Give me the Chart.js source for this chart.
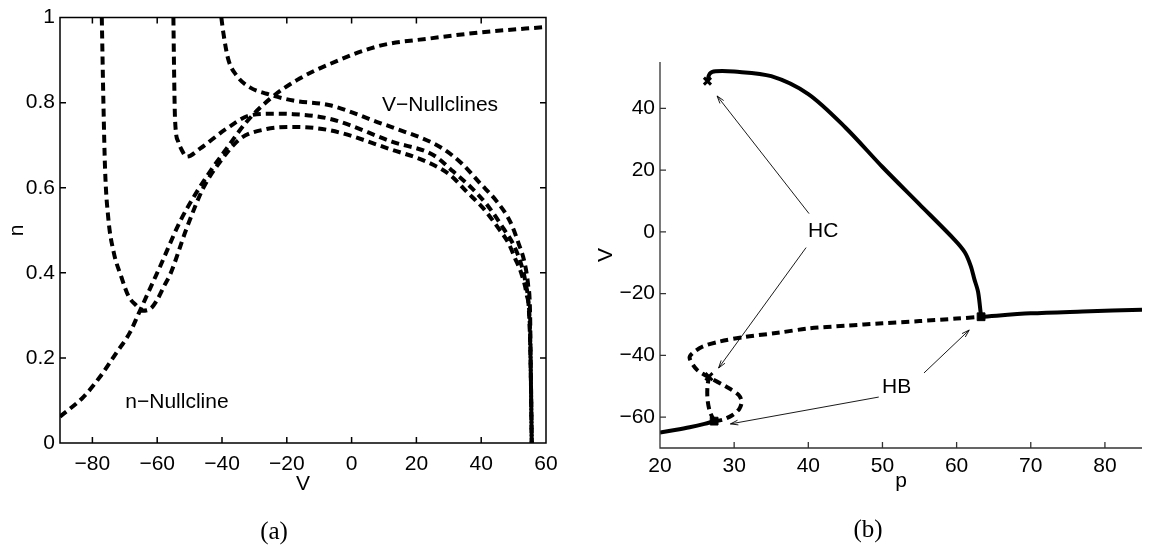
<!DOCTYPE html>
<html>
<head>
<meta charset="utf-8">
<script src="https://cdn.jsdelivr.net/npm/chart.js@4.4.0/dist/chart.umd.min.js"></script>
<style>
  body { margin: 0; background: #fff; }
  #wrap { position: relative; width: 1150px; height: 546px; overflow: hidden; }
  #wrap canvas { position: absolute; top: 0; }
  .cap { position: absolute; font-family: 'Liberation Serif', serif; font-size: 25px; color: #000; transform: translate(-50%, -50%); }
</style>
</head>
<body>
<div id="wrap">
  <canvas id="chart-nullclines" width="575" height="546" style="left:0"></canvas>
  <canvas id="chart-bifurcation" width="575" height="546" style="left:575px"></canvas>
  <div class="cap" style="left:274px; top:531px">(a)</div>
  <div class="cap" style="left:868px; top:529px">(b)</div>
</div>
<script>
// (a) nullclines in the V-n plane
const nNullV = [-90, -82.8, -77.7, -72.5, -68.4, -65.8, -61.2, -59.1, -53, -47.8, -43.7, -38.6, -32.4, -25.2, -16.9, -6.7, 8.8, 24.2, 39.6, 60];
const nNullN = [0.062, 0.108, 0.155, 0.213, 0.26, 0.303, 0.38, 0.415, 0.52, 0.59, 0.638, 0.692, 0.755, 0.809, 0.853, 0.891, 0.934, 0.951, 0.965, 0.978];

const vNullAV = [-77.1, -76.6, -76.1, -75.1, -73.5, -71, -68.9, -66.3, -64.8, -62.2, -60.2, -57.6, -56, -50.9, -45.8, -40.6, -34.4, -26.2, -18, -6.7, 12.6, 23.2, 30.4, 35.5, 40.6, 45.3, 48.4, 50.4, 52.5, 54, 55, 55.3, 55.6];
const vNullAN = [1.0, 0.8, 0.646, 0.529, 0.451, 0.389, 0.346, 0.322, 0.311, 0.315, 0.334, 0.373, 0.396, 0.505, 0.599, 0.661, 0.715, 0.738, 0.743, 0.735, 0.689, 0.661, 0.63, 0.591, 0.552, 0.505, 0.47, 0.435, 0.396, 0.35, 0.28, 0.171, 0.0];

const vNullBV = [-55, -54.8, -54.5, -53.5, -52.5, -50.9, -46.8, -38.6, -31.4, -24.2, -18, -6.7, 12.6, 25.2, 31.4, 37.1, 42.2, 46.8, 49.9, 52, 53.6, 54.8, 55.3, 55.6];
const vNullBN = [1.0, 0.88, 0.762, 0.708, 0.69, 0.673, 0.692, 0.739, 0.77, 0.774, 0.773, 0.762, 0.708, 0.677, 0.638, 0.599, 0.556, 0.505, 0.467, 0.428, 0.38, 0.3, 0.171, 0.0];

const vNullCV = [-40.2, -39.6, -38.1, -35.5, -31.4, -26.2, -18, -6.7, 8.8, 12.6, 27.3, 34, 39.6, 44.8, 48.9, 51.5, 53.5, 54.5, 55.1, 55.3, 55.6];
const vNullCN = [1.0, 0.965, 0.903, 0.864, 0.836, 0.821, 0.805, 0.794, 0.752, 0.742, 0.696, 0.657, 0.611, 0.568, 0.521, 0.47, 0.42, 0.37, 0.3, 0.171, 0.0];

const leftVTicks = [-80, -60, -40, -20, 0, 20, 40, 60];
const leftNTicks = [0, 0.2, 0.4, 0.6, 0.8, 1];
const leftNotes = [
  {text: 'V\u2212Nullclines', x: 27.3, y: 0.794},
  {text: 'n\u2212Nullcline', x: -53.9, y: 0.096}
];

// (b) bifurcation diagram, V against p
const lowStableP = [20, 22, 24, 26, 27.3];
const lowStableV = [-65, -64.2, -63.3, -62.2, -61.3];
const unstableEqP = [27.3, 28.5, 29.8, 30.7, 31, 30.6, 28.9, 26.6, 25, 24, 24.3, 25.7, 27.9, 31.5, 35.9, 40, 45, 50, 55, 60, 63.3];
const unstableEqV = [-61.3, -60.8, -59.3, -57.3, -55, -52.8, -50.1, -47.1, -44.7, -41, -39.5, -37.2, -35.6, -34, -32.7, -31.3, -30.4, -29.6, -28.9, -28.1, -27.5];
const unstableCycP = [27.3, 26.7, 26.4, 26.4, 26.6];
const unstableCycV = [-61.3, -58, -54, -50, -47.1];
const stableCycP = [26.4, 26.7, 27.5, 30, 35, 40, 45, 50, 55, 59.7, 61.1, 61.9, 62.4, 62.9, 63.3];
const stableCycV = [48.8, 51.2, 52, 51.9, 50.4, 44.6, 33.8, 21, 8.9, -2.5, -6.6, -11, -15.4, -19.5, -27.5];
const highStableP = [63.3, 70, 77, 85];
const highStableV = [-27.5, -26.4, -25.8, -25.2];

const hbP = [27.3, 63.3];
const hbV = [-61.3, -27.5];
const hcP = [26.4, 26.6];
const hcV = [48.8, -46.9];

const rightPTicks = [20, 30, 40, 50, 60, 70, 80];
const rightVTicks = [-60, -40, -20, 0, 20, 40];
const rightNotes = [
  {text: 'HC', x: 42, y: 0.1},
  {text: 'HB', x: 51.9, y: -50.2}
];
const arrowTails = [[40.1, 5.9], [39.7, -5.1], [55.6, -45.7], [49.5, -53.5]];
const arrowHeads = [[27.7, 44.0], [27.9, -44.1], [61.7, -31.8], [29.5, -62.2]];

Chart.defaults.font.family = "'Liberation Sans', Arial, sans-serif";
Chart.defaults.font.size = 21;
Chart.defaults.color = '#000';

const pts = (xs, ys) => xs.map((x, i) => ({x: x, y: ys[i]}));
const minus = v => String(v).replace('-', '\u2212');

// frame, inward ticks, notes and arrows
const decor = {
  id: 'decor',
  afterDatasetsDraw(chart, args, opts) {
    const ctx = chart.ctx;
    const a = chart.chartArea;
    const xs = chart.scales.x, ys = chart.scales.y;
    const L = opts.tickLen;
    ctx.save();
    ctx.strokeStyle = opts.color;
    ctx.lineWidth = opts.width;
    ctx.beginPath();
    if (opts.box) {
      ctx.rect(a.left, a.top, a.right - a.left, a.bottom - a.top);
    } else {
      ctx.moveTo(a.left, a.top);
      ctx.lineTo(a.left, a.bottom);
      ctx.lineTo(a.right, a.bottom);
    }
    xs.ticks.forEach(t => {
      const px = xs.getPixelForValue(t.value);
      ctx.moveTo(px, a.bottom); ctx.lineTo(px, a.bottom - L);
      if (opts.box) { ctx.moveTo(px, a.top); ctx.lineTo(px, a.top + L); }
    });
    ys.ticks.forEach(t => {
      const py = ys.getPixelForValue(t.value);
      ctx.moveTo(a.left, py); ctx.lineTo(a.left + L, py);
      if (opts.box) { ctx.moveTo(a.right, py); ctx.lineTo(a.right - L, py); }
    });
    ctx.stroke();

    // arrows
    ctx.lineWidth = 0.9;
    ctx.strokeStyle = '#000';
    (opts.tails || []).forEach((tl, i) => {
      const hd = opts.heads[i];
      const x0 = xs.getPixelForValue(tl[0]), y0 = ys.getPixelForValue(tl[1]);
      const x1 = xs.getPixelForValue(hd[0]), y1 = ys.getPixelForValue(hd[1]);
      const ang = Math.atan2(y1 - y0, x1 - x0);
      ctx.beginPath();
      ctx.moveTo(x0, y0); ctx.lineTo(x1, y1);
      ctx.moveTo(x1 - 8 * Math.cos(ang - 0.3), y1 - 8 * Math.sin(ang - 0.3));
      ctx.lineTo(x1, y1);
      ctx.lineTo(x1 - 8 * Math.cos(ang + 0.3), y1 - 8 * Math.sin(ang + 0.3));
      ctx.stroke();
    });

    ctx.fillStyle = '#000';
    ctx.font = "21px 'Liberation Sans', Arial, sans-serif";
    ctx.textAlign = 'center';
    ctx.textBaseline = 'middle';
    (opts.notes || []).forEach(n => {
      ctx.fillText(n.text, xs.getPixelForValue(n.x), ys.getPixelForValue(n.y));
    });
    ctx.restore();
  }
};

const dashed = {borderColor: '#000', borderWidth: 4, borderDash: [8, 5], pointRadius: 0, showLine: true, fill: false, tension: 0.3};
const solid = {borderColor: '#000', borderWidth: 4, pointRadius: 0, showLine: true, fill: false, tension: 0.3};
const smoothDashed = Object.assign({}, dashed, {cubicInterpolationMode: 'monotone'});
const noGrid = {display: false, drawTicks: false};

new Chart(document.getElementById('chart-nullclines').getContext('2d'), {
  type: 'scatter',
  data: {
    datasets: [
      Object.assign({label: 'n-nullcline', data: pts(nNullV, nNullN)}, smoothDashed),
      Object.assign({label: 'V-nullcline 1', data: pts(vNullAV, vNullAN)}, smoothDashed),
      Object.assign({label: 'V-nullcline 2', data: pts(vNullBV, vNullBN)}, smoothDashed),
      Object.assign({label: 'V-nullcline 3', data: pts(vNullCV, vNullCN)}, smoothDashed)
    ]
  },
  options: {
    responsive: false,
    animation: false,
    events: [],
    layout: {padding: {top: 15, right: 29, left: 0, bottom: 0}},
    scales: {
      x: {
        type: 'linear', min: -90, max: 60,
        grid: noGrid, border: {display: false},
        ticks: {padding: 9, maxRotation: 0, autoSkip: false, callback: v => minus(v)},
        title: {display: true, text: 'V', padding: {top: 0, bottom: 49}},
        afterBuildTicks: s => { s.ticks = leftVTicks.map(v => ({value: v})); },
        afterFit: s => { s.height = 103; }
      },
      y: {
        type: 'linear', min: 0, max: 1,
        grid: noGrid, border: {display: false},
        ticks: {padding: 5, autoSkip: false, callback: v => String(v)},
        title: {display: true, text: 'n', padding: {top: 5, bottom: 0}},
        afterBuildTicks: s => { s.ticks = leftNTicks.map(v => ({value: v})); },
        afterFit: s => { s.width = 60; }
      }
    },
    plugins: {
      legend: {display: false},
      tooltip: {enabled: false},
      decor: {box: true, tickLen: 6, color: '#000', width: 1.5, notes: leftNotes}
    }
  },
  plugins: [decor]
});

new Chart(document.getElementById('chart-bifurcation').getContext('2d'), {
  type: 'scatter',
  data: {
    datasets: [
      {label: 'HB', data: pts(hbP, hbV), pointStyle: 'rect', pointRadius: 5.5, backgroundColor: '#000', borderColor: '#000', showLine: false},
      {label: 'HC', data: pts(hcP, hcV), pointStyle: 'crossRot', pointRadius: 5, borderWidth: 3, borderColor: '#000', showLine: false},
      Object.assign({label: 'stable low', data: pts(lowStableP, lowStableV)}, solid),
      Object.assign({label: 'unstable eq', data: pts(unstableEqP, unstableEqV)}, dashed),
      Object.assign({label: 'unstable cycle', data: pts(unstableCycP, unstableCycV)}, dashed),
      Object.assign({label: 'stable cycle', data: pts(stableCycP, stableCycV)}, solid),
      Object.assign({label: 'stable high', data: pts(highStableP, highStableV)}, solid)
    ]
  },
  options: {
    responsive: false,
    animation: false,
    events: [],
    layout: {padding: {top: 62, right: 0, left: 0, bottom: 0}},
    scales: {
      x: {
        type: 'linear', min: 20, max: 85,
        grid: noGrid, border: {display: false},
        ticks: {padding: 6, maxRotation: 0, autoSkip: false, callback: v => minus(v)},
        title: {display: true, text: 'p', padding: {top: 0, bottom: 52}},
        afterBuildTicks: s => { s.ticks = rightPTicks.map(v => ({value: v})); },
        afterFit: s => { s.height = 98; }
      },
      y: {
        type: 'linear', min: -70, max: 55,
        grid: noGrid, border: {display: false},
        ticks: {padding: 5, autoSkip: false, callback: v => minus(v)},
        title: {display: true, text: 'V', padding: {top: 19, bottom: 0}},
        afterBuildTicks: s => { s.ticks = rightVTicks.map(v => ({value: v})); },
        afterFit: s => { s.width = 85; }
      }
    },
    plugins: {
      legend: {display: false},
      tooltip: {enabled: false},
      decor: {box: false, tickLen: 6, color: '#333', width: 1.3, notes: rightNotes, tails: arrowTails, heads: arrowHeads}
    }
  },
  plugins: [decor]
});
</script>
</body>
</html>
